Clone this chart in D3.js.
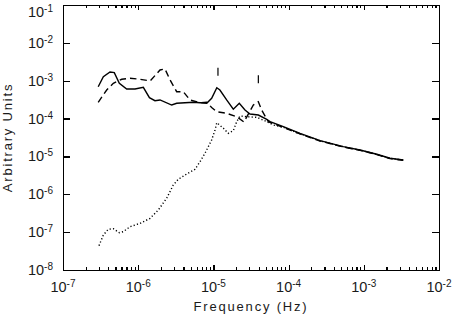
<!DOCTYPE html>
<html>
<head>
<meta charset="utf-8">
<script src="https://cdn.jsdelivr.net/npm/d3@7"></script>
<style>
  body { margin: 0; background: #fff; }
  svg { display: block; }
  .lbl { font-family: "Liberation Sans", Arial, sans-serif; fill: #1a1a1a; }
  .axis path, .axis line { stroke: #000; stroke-width: 1.2; shape-rendering: crispEdges; }
</style>
</head>
<body>
<div class="viz"></div>
<script>
// data
var freqSolid = [2.94e-7, 3.44e-7, 4.22e-7, 4.81e-7, 5.61e-7, 7.03e-7, 9.06e-7, 1.17e-6, 1.41e-6, 1.67e-6,
    1.95e-6, 2.79e-6, 3.25e-6, 5.41e-6, 8.15e-6, 9.48e-6, 1.11e-5, 1.22e-5, 1.50e-5, 1.84e-5,
    2.21e-5, 2.63e-5, 3.07e-5, 3.96e-5, 5.12e-5, 5.66e-5, 8.51e-5, 1.42e-4, 2.62e-4, 5.33e-4,
    8.89e-4, 1.49e-3, 2.23e-3, 3.35e-3];
var powSolid = [6.95e-4, 1.28e-3, 1.70e-3, 1.63e-3, 8.55e-4, 6.04e-4, 6.04e-4, 6.70e-4, 3.56e-4, 2.97e-4,
    3.10e-4, 2.28e-4, 2.53e-4, 2.69e-4, 2.53e-4, 3.43e-4, 6.54e-4, 5.69e-4, 3.10e-4, 1.76e-4,
    2.53e-4, 1.69e-4, 1.32e-4, 1.24e-4, 9.57e-5, 8.28e-5, 6.11e-5, 4.08e-5, 2.61e-5, 1.81e-5,
    1.48e-5, 1.14e-5, 8.93e-6, 8.05e-6];

var freqDashed = [2.94e-7, 3.81e-7, 4.67e-7, 6.04e-7, 7.78e-7, 1.06e-6, 1.44e-6, 1.95e-6, 2.27e-6, 2.65e-6,
    3.25e-6, 3.98e-6, 4.89e-6, 6.64e-6, 8.15e-6, 9.48e-6, 1.11e-5, 1.50e-5, 2.04e-5, 2.55e-5,
    3.40e-5, 3.96e-5, 4.38e-5, 5.37e-5, 8.51e-5, 1.42e-4, 2.62e-4, 5.33e-4, 8.89e-4, 1.49e-3,
    2.23e-3, 3.35e-3];
var powDashed = [2.69e-4, 5.69e-4, 8.55e-4, 1.09e-3, 1.16e-3, 1.09e-3, 9.84e-4, 1.92e-3, 2.04e-3, 1.05e-3,
    5.13e-4, 5.13e-4, 3.10e-4, 2.63e-4, 2.69e-4, 1.96e-4, 1.52e-4, 1.38e-4, 1.12e-4, 8.12e-5,
    2.28e-4, 2.79e-4, 1.69e-4, 8.28e-5, 5.81e-5, 3.92e-5, 2.55e-5, 1.78e-5, 1.46e-5, 1.12e-5,
    8.8e-6, 7.9e-6];

var freqDotted = [3.01e-7, 3.44e-7, 4.00e-7, 4.67e-7, 5.61e-7, 6.34e-7, 7.78e-7, 1.06e-6, 1.44e-6, 1.85e-6,
    2.39e-6, 2.93e-6, 3.41e-6, 4.42e-6, 5.69e-6, 6.64e-6, 7.73e-6, 9.48e-6, 1.05e-5, 1.11e-5,
    1.36e-5, 1.58e-5, 1.84e-5, 2.04e-5, 2.26e-5, 2.77e-5, 3.77e-5, 5.12e-5, 6.27e-5, 8.51e-5,
    1.42e-4, 2.62e-4, 5.33e-4, 8.89e-4, 1.49e-3, 2.23e-3, 3.35e-3];
var powDotted = [4.39e-8, 8.41e-8, 1.19e-7, 1.23e-7, 9.68e-8, 1.03e-7, 1.39e-7, 1.71e-7, 2.32e-7, 3.85e-7,
    7.84e-7, 1.76e-6, 2.49e-6, 3.44e-6, 4.57e-6, 7.26e-6, 1.21e-5, 2.72e-5, 4.99e-5, 7.78e-5,
    5.53e-5, 4.08e-5, 4.79e-5, 8.28e-5, 1.17e-4, 1.12e-4, 1.08e-4, 8.28e-5, 6.76e-5, 5.9e-5,
    3.95e-5, 2.58e-5, 1.8e-5, 1.47e-5, 1.13e-5, 8.9e-6, 8.0e-6];

// little vertical markers above the curves
var markFreq = [1.15e-5, 3.96e-5];
var markPow = [1.73e-3, 1.10e-3];

var xExponents = [-7, -6, -5, -4, -3, -2];
var yExponents = [-8, -7, -6, -5, -4, -3, -2, -1];

//////////////////////////
// D3 Stuff
//////////////////////////

var margins = { top: 5, right: 16, bottom: 46, left: 63 };
var W = 455, H = 316;
var width = W - margins.left - margins.right;
var height = H - margins.top - margins.bottom;

var svg = d3.select('div.viz')
    .append('svg')
    .attr('width', W)
    .attr('height', H);

var g = svg.append('g')
    .attr('transform', 'translate(' + margins.left + ',' + margins.top + ')');

var xScale = d3.scaleLog().domain([1e-7, 1e-2]).range([0, width]);
var yScale = d3.scaleLog().domain([1e-8, 1e-1]).range([height, 0]);

var xMajor = xExponents.map(function(e) { return Math.pow(10, e); });
var yMajor = yExponents.map(function(e) { return Math.pow(10, e); });
var xMinor = [];
xExponents.slice(0, -1).forEach(function(e) {
    for (var k = 2; k <= 9; k++) xMinor.push(k * Math.pow(10, e));
});

// frame + ticks (all pointing inward)
g.append('g').attr('class', 'axis')
    .attr('transform', 'translate(0,' + height + ')')
    .call(d3.axisBottom(xScale).tickValues(xMajor).tickSize(-5).tickSizeOuter(0).tickFormat(''));
g.append('g').attr('class', 'axis')
    .attr('transform', 'translate(0,' + height + ')')
    .call(d3.axisBottom(xScale).tickValues(xMinor).tickSize(-3).tickSizeOuter(0).tickFormat(''));
g.append('g').attr('class', 'axis')
    .call(d3.axisTop(xScale).tickValues(xMajor).tickSize(-5).tickSizeOuter(0).tickFormat(''));
g.append('g').attr('class', 'axis')
    .call(d3.axisTop(xScale).tickValues(xMinor).tickSize(-3).tickSizeOuter(0).tickFormat(''));
g.append('g').attr('class', 'axis')
    .call(d3.axisLeft(yScale).tickValues(yMajor).tickSize(-7).tickSizeOuter(0).tickFormat(''));
g.append('g').attr('class', 'axis')
    .attr('transform', 'translate(' + width + ',0)')
    .call(d3.axisRight(yScale).tickValues(yMajor).tickSize(-7).tickSizeOuter(0).tickFormat(''));

// tick labels as 10 with superscript
function powerLabel(sel, e) {
    sel.append('tspan').attr('font-size', 14.5).text('10');
    sel.append('tspan').attr('font-size', 10).attr('dy', -5).text('-' + Math.abs(e));
}

g.selectAll('text.xlab')
    .data(xExponents)
    .enter()
    .append('text')
    .attr('class', 'lbl xlab')
    .attr('x', function(e) { return xScale(Math.pow(10, e)); })
    .attr('y', height + 22)
    .attr('text-anchor', 'middle')
    .each(function(e) { powerLabel(d3.select(this), e); });

g.selectAll('text.ylab')
    .data(yExponents)
    .enter()
    .append('text')
    .attr('class', 'lbl ylab')
    .attr('x', -10)
    // the top label is pushed down so it stays inside the picture
    .attr('y', function(e) { return Math.max(yScale(Math.pow(10, e)) + 5, 12); })
    .attr('text-anchor', 'end')
    .each(function(e) { powerLabel(d3.select(this), e); });

// axis titles
g.append('text')
    .attr('class', 'lbl')
    .attr('x', width / 2)
    .attr('y', height + 41)
    .attr('text-anchor', 'middle')
    .attr('font-size', 13)
    .attr('letter-spacing', 1.8)
    .text('Frequency (Hz)');

g.append('text')
    .attr('class', 'lbl')
    .attr('transform', 'translate(' + (-51) + ',' + (height / 2) + ') rotate(-90)')
    .attr('text-anchor', 'middle')
    .attr('font-size', 13)
    .attr('letter-spacing', 1.8)
    .text('Arbitrary Units');

// curves
var line = d3.line()
    .x(function(d) { return xScale(d[0]); })
    .y(function(d) { return yScale(d[1]); });

var series = [
    { f: freqDotted, p: powDotted, dash: '1.2,2.2' },
    { f: freqDashed, p: powDashed, dash: '6.5,4' },
    { f: freqSolid, p: powSolid, dash: null }
];

g.selectAll('path.curve')
    .data(series)
    .enter()
    .append('path')
    .attr('class', 'curve')
    .attr('fill', 'none')
    .attr('stroke', '#000')
    .attr('stroke-width', 1.4)
    .attr('stroke-dasharray', function(d) { return d.dash; })
    .attr('d', function(d) { return line(d.f.map(function(v, i) { return [v, d.p[i]]; })); });

g.selectAll('line.mark')
    .data(markFreq)
    .enter()
    .append('line')
    .attr('class', 'mark')
    .attr('stroke', '#000')
    .attr('stroke-width', 1.2)
    .attr('x1', function(d) { return xScale(d); })
    .attr('x2', function(d) { return xScale(d); })
    .attr('y1', function(d, i) { return yScale(markPow[i]) - 4; })
    .attr('y2', function(d, i) { return yScale(markPow[i]) + 4; });
</script>
</body>
</html>
